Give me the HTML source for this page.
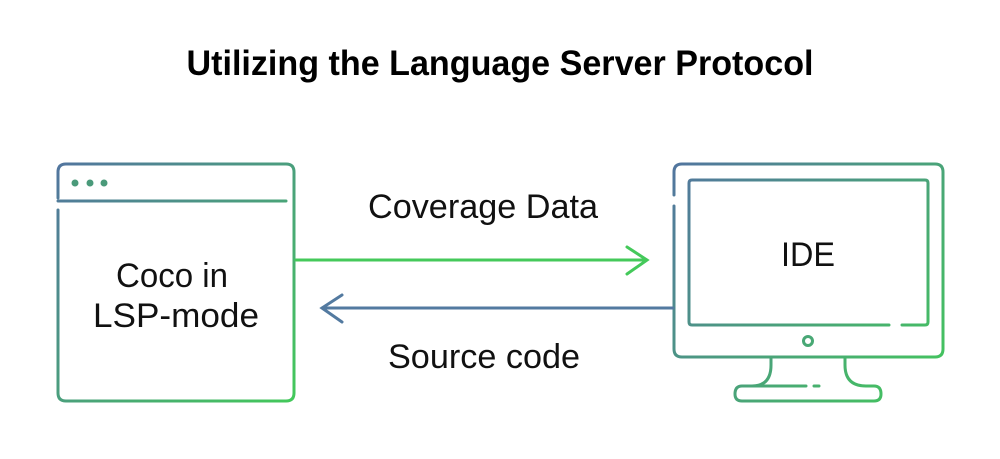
<!DOCTYPE html>
<html><head><meta charset="utf-8"><style>html,body{margin:0;padding:0;background:#fff}svg{display:block}</style></head>
<body>
<svg width="1000" height="459" viewBox="0 0 1000 459" xmlns="http://www.w3.org/2000/svg">
<defs>
<linearGradient id="g1" gradientUnits="userSpaceOnUse" x1="57" y1="163" x2="295" y2="402"><stop offset="0" stop-color="#52759f"/><stop offset="1" stop-color="#43c95a"/></linearGradient>
<linearGradient id="g2" gradientUnits="userSpaceOnUse" x1="673" y1="163" x2="943" y2="402"><stop offset="0" stop-color="#52759f"/><stop offset="1" stop-color="#43c95a"/></linearGradient>
</defs>
<text x="500" y="75" text-anchor="middle" font-family="Liberation Sans, sans-serif" font-weight="bold" font-size="35" textLength="627" lengthAdjust="spacingAndGlyphs" fill="#000">Utilizing the Language Server Protocol</text>
<g fill="none" stroke-width="3" stroke-linecap="round">
<path d="M58 198 V172 Q58 164 66 164 H286 Q294 164 294 172 V393 Q294 401 286 401 H66 Q58 401 58 393 V210" stroke="url(#g1)"/>
<path d="M58 201 H286" stroke="url(#g1)"/>
<path d="M674 195 V172 Q674 164 682 164 H935 Q943 164 943 172 V349 Q943 357 935 357 H682 Q674 357 674 349 V206" stroke="url(#g2)"/>
<path d="M889 325 H692 Q689 325 689 322 V183 Q689 180 692 180 H925 Q928 180 928 183 V322 Q928 325 925 325 H902" stroke="url(#g2)"/>
<circle cx="808" cy="341" r="4.5" stroke="url(#g2)"/>
<path d="M771 358 V365 Q771 386 752 386 H742 Q735 386 735 394 Q735 401 742 401 H874 Q881 401 881 394 Q881 386 874 386 H866 Q845 386 845 365 V358" stroke="url(#g2)"/>
<path d="M752 386 H806 M814 386 H819" stroke="url(#g2)"/>
<path d="M296 260 H647 M627 247 L647 260 L627 274" stroke="#44c95a"/>
<path d="M673 308 H322 M342 295 L322 308 L342 322" stroke="#537aa0"/>
</g>
<g fill="#4a9a7a"><circle cx="75" cy="183" r="3.5"/><circle cx="90" cy="183" r="3.5"/><circle cx="104" cy="183" r="3.5"/></g>
<g font-family="Liberation Sans, sans-serif" font-size="34" fill="#111" text-anchor="middle">
<text x="483" y="218" textLength="230" lengthAdjust="spacingAndGlyphs">Coverage Data</text>
<text x="484" y="368" textLength="192" lengthAdjust="spacingAndGlyphs">Source code</text>
<text x="172" y="287" textLength="112" lengthAdjust="spacingAndGlyphs">Coco in</text>
<text x="176" y="327" textLength="166" lengthAdjust="spacingAndGlyphs">LSP-mode</text>
<text x="808" y="266" textLength="54" lengthAdjust="spacingAndGlyphs">IDE</text>
</g>
</svg>
</body></html>
